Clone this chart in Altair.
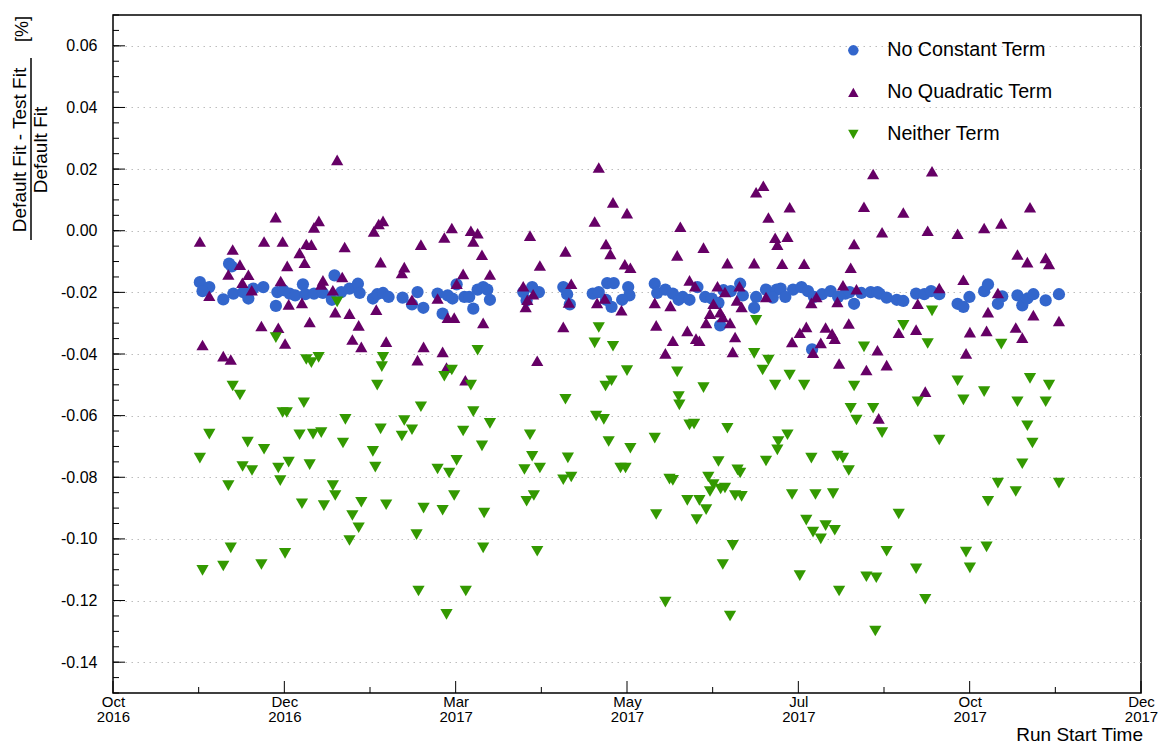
import altair as alt
import pandas as pd

FONT = "Liberation Sans, Arial, Helvetica, sans-serif"

# Runs: day offset from 2016-10-01 and relative difference (%) per test fit
nc_day = [36.0, 39.9, 37.1, 45.7, 48.1, 49.2, 49.9, 54.0, 56.1, 58.1, 62.3, 68.1, 67.5, 70.6,
          73.2, 75.5, 78.7, 79.7, 83.3, 87.0, 91.8, 90.7, 94.6, 98.0, 101.5, 102.2, 107.7, 109.5, 111.9,
          114.2, 120.0, 123.9, 126.2, 128.6, 134.5, 136.6, 138.7, 140.7, 142.4, 145.6, 149.3, 147.6, 151.1, 153.4,
          155.1, 156.2, 170.0, 173.7, 176.5, 171.4, 186.6, 188.2, 189.3,
          198.8, 201.3, 204.8, 207.5, 204.3, 206.6, 213.5, 214.0, 211.0, 224.5, 225.5, 228.9, 232.0, 234.4,
          236.1, 238.9, 242.2, 245.4, 248.1, 250.9, 253.0, 256.0, 259.9, 261.0, 251.6, 266.5, 265.7, 270.6, 275.0, 273.4,
          276.7, 278.6, 281.8, 285.3, 288.0, 290.5, 293.8, 297.4, 300.5, 303.5, 307.1, 305.3, 310.1, 314.0, 316.8, 289.7,
          317.6, 320.6, 324.8, 327.5, 332.8, 336.2, 339.0, 342.4, 350.0, 352.4, 354.9,
          361.0, 362.6, 366.7, 368.5, 374.8, 376.8, 378.9, 381.4, 386.5, 392.0]
nc_val = [-0.0167, -0.0183, -0.0196, -0.0223, -0.0107, -0.0116, -0.0204, -0.0199, -0.0220, -0.0188, -0.0183, -0.0199, -0.0244, -0.0193,
          -0.0204, -0.0210, -0.0174, -0.0206, -0.0204, -0.0202, -0.0145, -0.0224, -0.0199, -0.0188, -0.0172, -0.0202, -0.0220, -0.0206, -0.0202,
          -0.0215, -0.0217, -0.0239, -0.0199, -0.0250, -0.0204, -0.0269, -0.0210, -0.0220, -0.0174, -0.0215, -0.0253, -0.0215, -0.0191, -0.0183,
          -0.0191, -0.0224, -0.0199, -0.0183, -0.0199, -0.0226, -0.0183, -0.0206, -0.0239,
          -0.0204, -0.0199, -0.0170, -0.0170, -0.0224, -0.0247, -0.0183, -0.0210, -0.0224, -0.0172, -0.0202, -0.0191, -0.0204, -0.0224,
          -0.0215, -0.0224, -0.0183, -0.0215, -0.0220, -0.0234, -0.0193, -0.0196, -0.0172, -0.0210, -0.0307, -0.0215, -0.0250, -0.0191, -0.0191, -0.0217,
          -0.0188, -0.0215, -0.0191, -0.0183, -0.0196, -0.0215, -0.0206, -0.0196, -0.0215, -0.0204, -0.0237, -0.0199, -0.0202, -0.0199, -0.0199, -0.0385,
          -0.0204, -0.0217, -0.0224, -0.0228, -0.0204, -0.0206, -0.0196, -0.0206, -0.0237, -0.0247, -0.0215,
          -0.0196, -0.0174, -0.0237, -0.0213, -0.0210, -0.0242, -0.0220, -0.0206, -0.0226, -0.0206]

nq_day = [36.0, 37.1, 39.9, 45.7, 48.8, 47.8, 49.6, 52.6, 53.6, 56.1, 57.5, 61.5, 62.6, 67.4, 68.5, 69.5, 70.3, 71.3, 72.2, 72.8,
          92.9, 83.3, 85.3, 80.1, 82.2, 77.3, 79.4, 96.0, 87.0, 86.3, 95.0, 91.1, 78.3, 92.1, 98.0, 81.5, 101.8, 99.2, 102.9,
          108.1, 111.9, 110.1, 110.9, 109.1, 113.2,
          140.4, 137.3, 148.3, 151.1, 149.3, 127.6, 152.9, 120.7, 119.7, 145.1, 142.4, 123.9, 134.5, 138.7, 141.4, 153.4,
          128.7, 126.2, 136.6, 138.2, 146.0,
          156.2, 172.8, 176.9, 187.5, 170.0, 174.1, 171.7, 171.0, 189.9, 188.9, 186.6, 175.8,
          201.3, 207.2, 199.6, 213.0, 235.1, 204.3, 206.1, 212.1, 214.4, 233.8, 200.6, 203.8, 210.7, 224.5, 231.0, 225.1, 232.0, 228.9,
          269.5, 266.5, 271.6, 274.4, 275.3, 244.7, 254.6, 265.7, 238.9, 241.2, 250.5, 253.6, 259.6, 270.6, 248.8, 258.5, 260.5,
          247.4, 251.6, 245.8, 252.7, 255.7, 238.0, 241.6, 243.0, 257.8, 256.8,
          315.0, 280.4, 311.2, 279.5, 307.1, 277.3, 286.4, 305.7, 302.5, 308.1, 291.5, 289.4, 300.2, 304.9, 287.3, 284.6,
          295.3, 298.0, 299.1, 281.4, 293.3, 290.1, 300.9, 312.2, 316.8,
          339.4, 327.5, 318.7, 337.6, 350.0, 352.4, 342.4, 333.5, 325.6, 332.8, 355.1, 320.6, 353.5, 336.6, 317.3,
          380.0, 361.0, 368.1, 374.8, 378.9, 386.5, 387.9, 366.7, 362.6, 381.4, 392.0, 362.0, 374.1, 376.8]
nq_val = [-0.0035, -0.0371, -0.0211, -0.0407, -0.0418, -0.0142, -0.0061, -0.0110, -0.0169, -0.0143, -0.0193, -0.0309, -0.0035, 0.0044,
          -0.0315, -0.0163, -0.0035, -0.0366, -0.0114, -0.0239,
          0.0230, 0.0011, 0.0032, -0.0043, -0.0045, -0.0072, -0.0104, -0.0053, -0.0161, -0.0174, -0.0150, -0.0193, -0.0234, -0.0264,
          -0.0269, -0.0296, -0.0307, -0.0353, -0.0377,
          -0.0002, 0.0032, 0.0022, -0.0102, -0.0256, -0.0360,
          0.0009, -0.0022, 0.0000, -0.0008, -0.0035, -0.0045, -0.0078, -0.0118, -0.0137, -0.0140, -0.0172, -0.0224, -0.0220, -0.0282,
          -0.0282, -0.0299,
          -0.0377, -0.0420, -0.0393, -0.0444, -0.0485,
          -0.0142, -0.0016, -0.0113, -0.0067, -0.0180, -0.0206, -0.0224, -0.0247, -0.0172, -0.0233, -0.0312, -0.0422,
          0.0205, 0.0092, 0.0030, 0.0057, 0.0013, -0.0043, -0.0075, -0.0109, -0.0120, -0.0080, -0.0234, -0.0220, -0.0258, -0.0234,
          -0.0244, -0.0307, -0.0357, -0.0398,
          0.0146, 0.0125, 0.0043, -0.0023, -0.0045, -0.0055, -0.0105, -0.0105, -0.0161, -0.0180, -0.0180, -0.0199, -0.0180, -0.0215,
          -0.0237, -0.0226, -0.0247,
          -0.0269, -0.0264, -0.0299, -0.0280, -0.0299, -0.0325, -0.0350, -0.0357, -0.0345, -0.0393,
          0.0184, 0.0076, 0.0078, -0.0019, -0.0043, -0.0107, -0.0107, -0.0120, -0.0177, -0.0190, -0.0215, -0.0234, -0.0231, -0.0301,
          -0.0312, -0.0331,
          -0.0314, -0.0334, -0.0350, -0.0361, -0.0364, -0.0396, -0.0431, -0.0452, -0.0388,
          0.0193, 0.0059, -0.0005, 0.0000, -0.0010, -0.0159, -0.0186, -0.0237, -0.0331, -0.0321, -0.0329, -0.0436, -0.0398, -0.0522,
          -0.0609,
          0.0076, 0.0009, 0.0024, -0.0077, -0.0102, -0.0088, -0.0108, -0.0202, -0.0264, -0.0274, -0.0293, -0.0325, -0.0314, -0.0347]

nt_day = [36.0, 37.1, 39.9, 45.7, 47.8, 48.8, 49.6, 52.6, 53.7, 55.8, 57.6, 61.5, 62.6, 67.5, 68.5, 69.3, 70.3, 71.3, 72.0, 72.8,
          92.9, 85.2, 80.1, 82.2, 111.9, 111.4, 109.5, 79.1, 96.3, 77.3, 82.9, 86.3, 110.9, 95.3, 107.7, 81.5, 108.7,
          91.1, 92.1, 78.3, 87.4, 102.9, 113.2, 99.2, 101.8, 98.0,
          151.1, 140.4, 137.3, 148.3, 127.6, 149.3, 120.7, 123.9, 119.7, 145.1, 152.9, 142.4, 134.5, 139.3, 141.4,
          128.7, 136.6, 153.8, 125.8, 153.4, 126.6, 146.2, 138.2,
          156.2, 187.5, 172.8, 173.7, 176.9, 170.5, 188.5, 186.6, 189.9, 174.4, 171.4, 175.8,
          201.3, 199.6, 207.2, 204.1, 206.6, 213.0, 233.8, 234.4, 234.7, 200.2, 203.4, 205.4, 214.4, 224.5, 210.3, 212.4,
          230.6, 232.0, 225.1, 228.9,
          266.5, 265.7, 271.6, 269.2, 274.4, 244.7, 238.9, 240.8, 254.6, 275.7, 275.3, 270.6, 250.9, 258.8, 259.9, 246.7,
          248.8, 251.8, 253.6, 247.4, 257.8, 260.5, 238.0, 243.0, 245.8, 241.9, 256.8, 252.7, 255.7,
          311.2, 280.4, 286.4, 307.1, 305.7, 308.1, 315.0, 279.5, 289.4, 300.2, 302.5, 304.9, 281.4, 291.1, 298.4,
          287.3, 295.3, 299.1, 290.1, 293.3, 284.6, 300.9, 312.2, 316.3, 315.9,
          339.4, 327.5, 337.6, 350.0, 352.4, 333.5, 318.7, 342.4, 325.6, 320.6, 332.8, 353.5, 355.1, 336.6,
          368.1, 380.0, 387.9, 361.0, 374.8, 386.5, 378.9, 381.0, 376.8, 366.7, 392.0, 374.1, 362.6, 362.0]
nt_val = [-0.0738, -0.1102, -0.0660, -0.1088, -0.0827, -0.1029, -0.0504, -0.0533, -0.0765, -0.0686, -0.0778, -0.1083, -0.0709,
          -0.0347, -0.0770, -0.0811, -0.0590, -0.1047, -0.0590, -0.0751,
          -0.0231, -0.0411, -0.0418, -0.0428, -0.0411, -0.0441, -0.0501, -0.0558, -0.0612, -0.0662, -0.0660, -0.0655, -0.0643,
          -0.0689, -0.0716, -0.0759, -0.0767,
          -0.0827, -0.0859, -0.0886, -0.0892, -0.0881, -0.0889, -0.0924, -0.0964, -0.1005,
          -0.0388, -0.0452, -0.0472, -0.0501, -0.0571, -0.0587, -0.0616, -0.0646, -0.0666, -0.0650, -0.0698, -0.0745, -0.0773,
          -0.0786, -0.0859,
          -0.0900, -0.0907, -0.0916, -0.0986, -0.1029, -0.1169, -0.1169, -0.1245,
          -0.0625, -0.0547, -0.0662, -0.0732, -0.0770, -0.0775, -0.0737, -0.0808, -0.0799, -0.0859, -0.0878, -0.1040,
          -0.0314, -0.0364, -0.0375, -0.0504, -0.0487, -0.0454, -0.0458, -0.0538, -0.0565, -0.0601, -0.0612, -0.0684, -0.0706,
          -0.0673, -0.0770, -0.0770,
          -0.0806, -0.0810, -0.0921, -0.1205,
          -0.0291, -0.0398, -0.0420, -0.0452, -0.0501, -0.0509, -0.0630, -0.0627, -0.0641, -0.0684, -0.0711, -0.0747, -0.0749,
          -0.0776, -0.0786, -0.0799,
          -0.0824, -0.0838, -0.0835, -0.0846, -0.0859, -0.0862, -0.0875, -0.0875, -0.0905, -0.0937, -0.1021, -0.1083, -0.1250,
          -0.0377, -0.0468, -0.0501, -0.0504, -0.0576, -0.0614, -0.0576, -0.0662, -0.0738, -0.0731, -0.0738, -0.0778, -0.0856,
          -0.0856, -0.0853,
          -0.0939, -0.0957, -0.0972, -0.0978, -0.1000, -0.1119, -0.1169, -0.1123, -0.1126, -0.1299,
          -0.0260, -0.0307, -0.0366, -0.0487, -0.0549, -0.0555, -0.0655, -0.0679, -0.0919, -0.1040, -0.1097, -0.1043, -0.1094,
          -0.1196,
          -0.0368, -0.0479, -0.0501, -0.0522, -0.0555, -0.0555, -0.0633, -0.0689, -0.0756, -0.0819, -0.0819, -0.0846, -0.0878,
          -0.1026]

series_names = ["No Constant Term", "No Quadratic Term", "Neither Term"]
series_colors = ["#3366cc", "#660066", "#339900"]
series_shapes = ["circle", "triangle-up", "triangle-down"]

# Axis divisions (days from 2016-10-01) and their two-line labels
x_major = [0, 71, 142, 213, 284, 355, 426]
x_minor = [35.5, 106.5, 177.5, 248.5, 319.5, 390.5]
x_months = ["Oct", "Dec", "Mar", "May", "Jul", "Oct", "Dec"]
x_years = ["2016", "2016", "2017", "2017", "2017", "2017", "2017"]
y_major = [-0.14, -0.12, -0.10, -0.08, -0.06, -0.04, -0.02, 0.0, 0.02, 0.04, 0.06]
y_minor = [round(-0.15 + 0.005 * k, 3) for k in range(45)]

frames = []
for name, days, vals in zip(series_names, [nc_day, nq_day, nt_day], [nc_val, nq_val, nt_val]):
    frames.append(pd.DataFrame({"day": days, "value": vals, "series": name}))
df = pd.concat(frames, ignore_index=True)

W, H = 1028, 678
x_scale = alt.Scale(domain=[0, 426], nice=False, zero=False)
y_scale = alt.Scale(domain=[-0.15, 0.07], nice=False, zero=False)

label_table = "[" + ",".join(f"['{m}','{y}']" for m, y in zip(x_months, x_years)) + "]"
x_axis = alt.Axis(values=x_major, title=None, grid=False, domain=False, ticks=False, tickSize=0,
                  labelExpr=f"{label_table}[round(datum.value / 71)]",
                  labelFont=FONT, labelFontSize=15, labelColor="black", labelPadding=1,
                  labelBaseline="top", labelLineHeight=15, labelAlign="center",
                  labelFlush=False, labelOverlap=False)
y_axis = alt.Axis(values=y_major, title=None, grid=True, gridColor="#bdbdbd", gridDash=[1.5, 4.5], gridWidth=1,
                  domain=False, ticks=False, tickSize=0,
                  labelExpr="(datum.value < -0.0001 ? '-' : '') + format(abs(datum.value), '.2f')",
                  labelFont=FONT, labelFontSize=16, labelColor="black", labelPadding=16,
                  labelFlush=False, labelOverlap=False)

legend = alt.Legend(title=None, orient="none", legendX=730.5, legendY=25.5, direction="vertical",
                    labelFont=FONT, labelFontSize=19.7, labelColor="black", labelOffset=24, labelLimit=400,
                    symbolSize=110, symbolStrokeWidth=0, rowPadding=21, padding=0)

points = alt.Chart(df).mark_point(filled=True, opacity=1, size=150, strokeWidth=0).encode(
    x=alt.X("day:Q", scale=x_scale, axis=x_axis),
    y=alt.Y("value:Q", scale=y_scale, axis=y_axis),
    color=alt.Color("series:N", scale=alt.Scale(domain=series_names, range=series_colors), legend=legend),
    shape=alt.Shape("series:N", scale=alt.Scale(domain=series_names, range=series_shapes), legend=legend),
)


def y_ticks(values, length):
    return alt.Chart(pd.DataFrame({"tick": values})).mark_rule(color="black", strokeWidth=1).encode(
        y=alt.Y("tick:Q", scale=y_scale, axis=y_axis), x=alt.value(0), x2=alt.value(length))


def x_ticks(values, length):
    return alt.Chart(pd.DataFrame({"tick": values})).mark_rule(color="black", strokeWidth=1).encode(
        x=alt.X("tick:Q", scale=x_scale, axis=x_axis), y=alt.value(H), y2=alt.value(H - length))


def text(label, x, y, size, angle=0, align="center", baseline="middle"):
    return alt.Chart(pd.DataFrame({"t": [label]})).mark_text(
        font=FONT, fontSize=size, color="black", angle=angle, align=align, baseline=baseline
    ).encode(x=alt.value(x), y=alt.value(y), text="t:N")


# y title drawn as a fraction: numerator, bar, denominator, unit
frac_bar = alt.Chart(pd.DataFrame({"a": [0]})).mark_rule(color="black", strokeWidth=1.5).encode(
    x=alt.value(-82), y=alt.value(43), y2=alt.value(225))

chart = alt.layer(
    y_ticks(y_minor, 6), y_ticks(y_major, 12),
    x_ticks(x_minor, 6), x_ticks(x_major, 12),
    points,
    text("Default Fit - Test Fit", -93, 135, 19, angle=270),
    frac_bar,
    text("Default Fit", -72, 135, 19, angle=270),
    text("[%]", -90, 14, 18, angle=270),
    text("Run Start Time", 1030, 726, 19, align="right", baseline="alphabetic"),
).properties(
    width=W, height=H,
    padding={"left": 113, "top": 15, "right": 19, "bottom": 52},
    autosize=alt.AutoSizeParams(type="none"),
    background="white",
).configure_view(stroke="black", strokeWidth=1.5)

chart.save("out.html", embed_options={"renderer": "svg", "actions": False})
